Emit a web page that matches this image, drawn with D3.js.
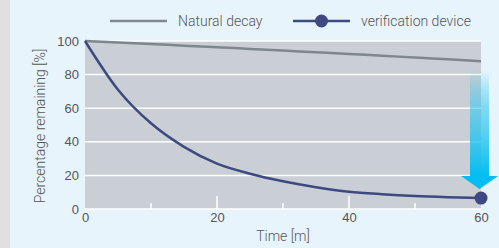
<!DOCTYPE html>
<html>
<head>
<meta charset="utf-8">
<style>
  body { margin: 0; background: #e0e0e0; }
  svg { display: block; font-family: Roboto, sans-serif; }
  .tick text { fill: #555; font-size: 13px; font-weight: 300; }
  .lbl { fill: #555; font-size: 14px; font-weight: 300; }
</style>
<script src="https://cdn.jsdelivr.net/npm/d3@7"></script>
</head>
<body>
<svg id="chart" width="499" height="248"></svg>
<script>
// data
var times = [0, 5, 10, 15, 20, 25, 30, 35, 40, 45, 50, 55, 60];
var natural = [100, 99.1, 98.2, 97.2, 96.3, 95.3, 94.3, 93.3, 92.3, 91.2, 90.2, 89.1, 88];
var device = [100, 71, 51, 37, 27, 21, 16.5, 13, 10.3, 8.8, 7.7, 7, 6.5];
var yTicks = [0, 20, 40, 60, 80, 100];
var xTicks = [0, 20, 40, 60];
var xMinor = [10, 30, 50];
var seriesNames = ["Natural decay", "verification device"];

var svg = d3.select("#chart");
// light blue panel
svg.append("rect").attr("x", 10).attr("y", 0).attr("width", 489).attr("height", 248).attr("fill", "#e7f4fc");

var x = d3.scaleLinear().domain([0, 60]).range([85, 481]);
var y = d3.scaleLinear().domain([0, 100]).range([209, 41]);

// plot area
svg.append("rect")
  .attr("x", x(0)).attr("y", y(100))
  .attr("width", x(60) - x(0)).attr("height", y(0) - y(100))
  .attr("fill", "#c9cfd4");

// grid lines
svg.append("g").selectAll("line").data(yTicks).enter().append("line")
  .attr("x1", x(0)).attr("x2", x(60))
  .attr("y1", function(d) { return y(d); }).attr("y2", function(d) { return y(d); })
  .attr("stroke", "#fff").attr("stroke-width", 1.5);

// x ticks inside the plot (white)
svg.append("g").selectAll("line").data(xTicks.slice(1, 3)).enter().append("line")
  .attr("x1", function(d) { return x(d); }).attr("x2", function(d) { return x(d); })
  .attr("y1", y(0)).attr("y2", y(0) - 13)
  .attr("stroke", "#fff").attr("stroke-width", 1.5);
svg.append("g").selectAll("line").data(xMinor).enter().append("line")
  .attr("x1", function(d) { return x(d); }).attr("x2", function(d) { return x(d); })
  .attr("y1", y(0)).attr("y2", y(0) - 6)
  .attr("stroke", "#fff").attr("stroke-width", 1.5);

// axes (labels only)
var yAxis = d3.axisLeft(y).tickValues(yTicks).tickSize(0).tickPadding(6);
svg.append("g").attr("transform", "translate(" + x(0) + ",0)").call(yAxis)
  .call(function(g) { g.select(".domain").remove(); });
var xAxis = d3.axisBottom(x).tickValues(xTicks).tickSize(0).tickPadding(4);
svg.append("g").attr("transform", "translate(0," + y(0) + ")").call(xAxis)
  .call(function(g) { g.select(".domain").remove(); });

// arrow
var defs = svg.append("defs");
var grad = defs.append("linearGradient").attr("id", "arrowGrad")
  .attr("x1", 0).attr("y1", 0).attr("x2", 0).attr("y2", 1);
grad.append("stop").attr("offset", "0%").attr("stop-color", "#00bdf2").attr("stop-opacity", 0);
grad.append("stop").attr("offset", "35%").attr("stop-color", "#3cc8f0").attr("stop-opacity", 0.6);
grad.append("stop").attr("offset", "100%").attr("stop-color", "#00bdf2").attr("stop-opacity", 1);
svg.append("rect").attr("x", 470).attr("y", 70).attr("width", 19).attr("height", 107)
  .attr("fill", "url(#arrowGrad)");
svg.append("path").attr("d", "M461,176 L498,176 L479.5,189 Z").attr("fill", "#00bdf2");

// lines
var line = d3.line()
  .x(function(d, i) { return x(times[i]); })
  .y(function(d) { return y(d); })
  .curve(d3.curveMonotoneX);
svg.append("path").datum(natural).attr("d", line)
  .attr("fill", "none").attr("stroke", "#80868e").attr("stroke-width", 2.5);
svg.append("path").datum(device).attr("d", line)
  .attr("fill", "none").attr("stroke", "#3d4a80").attr("stroke-width", 2.5);
svg.append("circle").attr("cx", x(60)).attr("cy", y(device[device.length - 1])).attr("r", 6.5)
  .attr("fill", "#3f4880");

// legend
svg.append("line").attr("x1", 110).attr("x2", 167).attr("y1", 21).attr("y2", 21)
  .attr("stroke", "#80868e").attr("stroke-width", 2.5);
svg.append("text").attr("class", "lbl").attr("x", 178).attr("y", 26).text(seriesNames[0]);
svg.append("line").attr("x1", 293).attr("x2", 350).attr("y1", 21).attr("y2", 21)
  .attr("stroke", "#3d4a80").attr("stroke-width", 2.5);
svg.append("circle").attr("cx", 321.5).attr("cy", 21).attr("r", 6.5).attr("fill", "#3f4880");
svg.append("text").attr("class", "lbl").attr("x", 361).attr("y", 26).text(seriesNames[1]);

// axis titles
svg.append("text").attr("class", "lbl").attr("text-anchor", "middle")
  .attr("x", (x(0) + x(60)) / 2).attr("y", 241).text("Time [m]");
svg.append("text").attr("class", "lbl").attr("text-anchor", "middle")
  .attr("transform", "translate(45,126) rotate(-90)").text("Percentage remaining [%]");
</script>
</body>
</html>
